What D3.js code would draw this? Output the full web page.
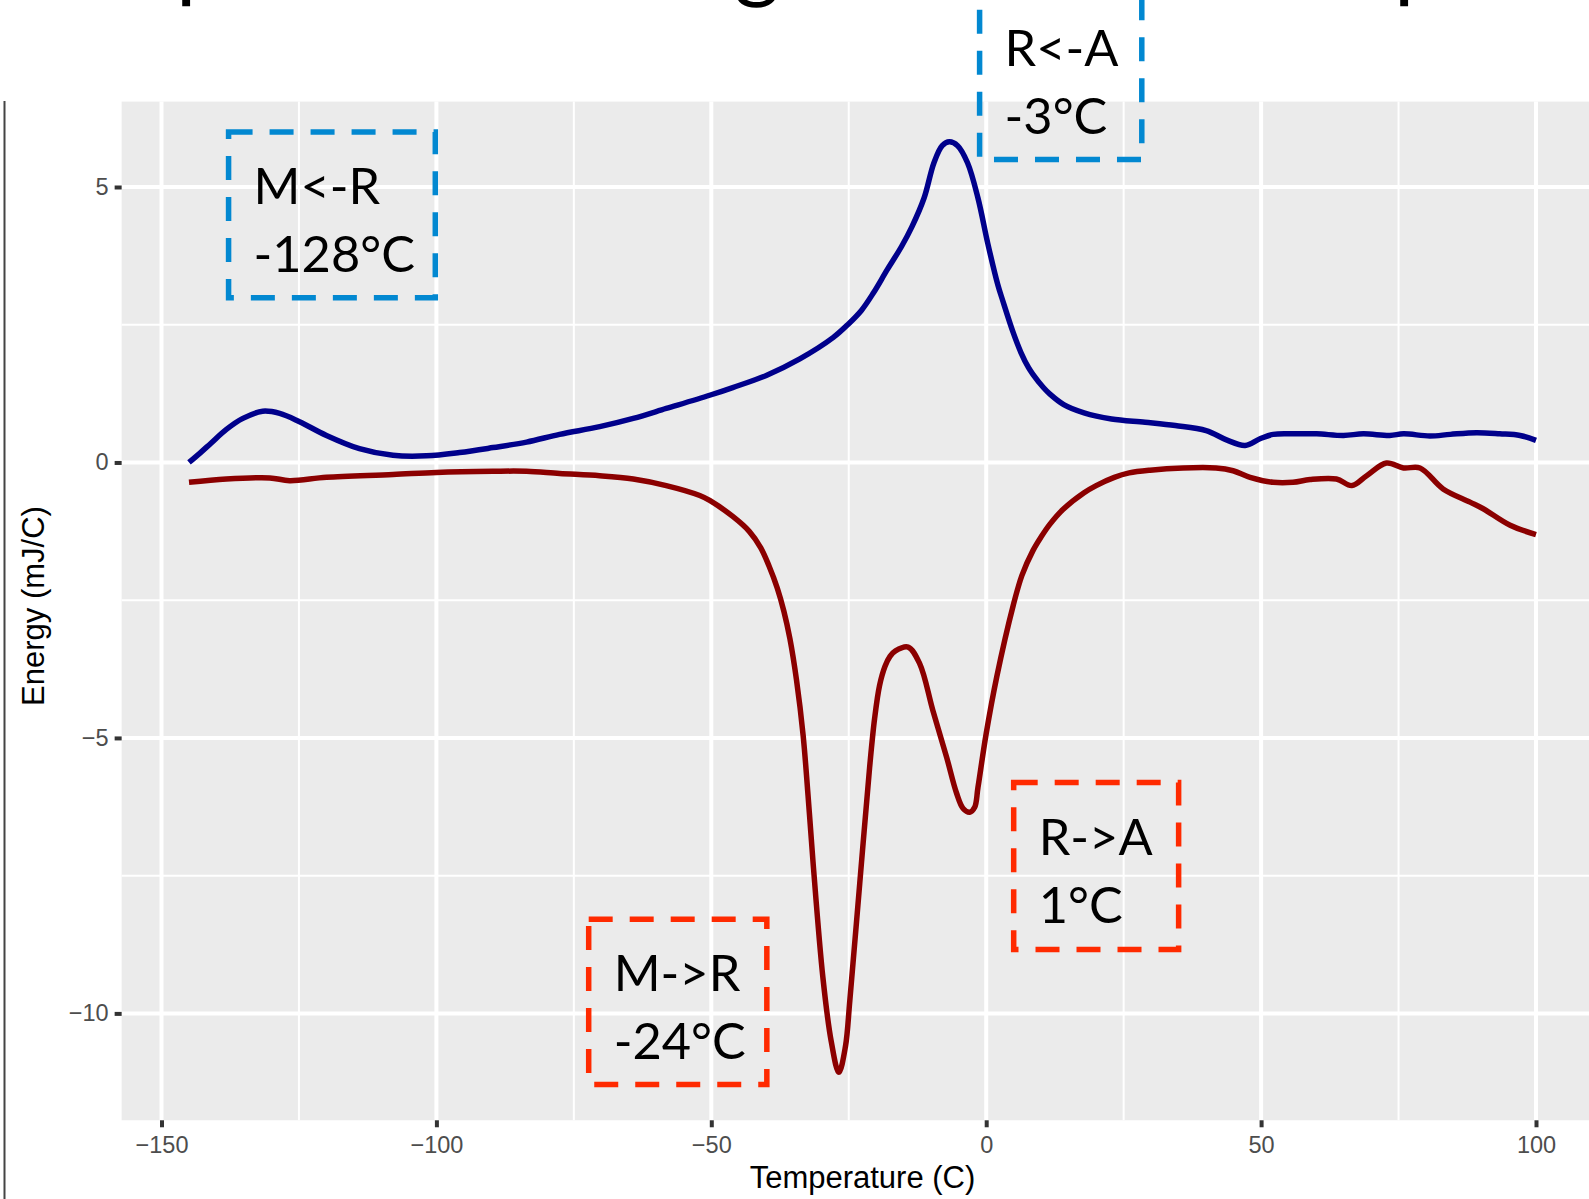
<!DOCTYPE html>
<html><head><meta charset="utf-8">
<script src="https://cdn.jsdelivr.net/npm/d3@7"></script>
<style>html,body{margin:0;padding:0;background:#fff;overflow:hidden}</style>
</head><body><svg id="c" width="1589" height="1199"></svg>
<script>
// ---- data ----
const coolingTemp = [-145,-143,-141,-138.2,-135.2,-131.6,-128.5,-124.9,-120,-114,-107.9,-101.8,-95.8,-89.7,-83.6,-77.6,-70.3,-64.2,-58.2,-50.3,-46.1,-40,-33.9,-27.8,-25.2,-22.7,-20.5,-18,-15.4,-13.5,-11.3,-9.5,-8,-6.7,-5.2,-3.4,-1.5,0.3,2.1,3,4.9,6.3,7.7,8.5,10.4,11.6,14.1,17.8,22.8,28.9,34.4,40,43.7,47.1,49.8,52.2,56,60.1,65,68.6,73.4,75.9,80.7,84.4,89.2,93.4,97.1,100];
const coolingEnergy = [0.0,0.17,0.35,0.6,0.8,0.93,0.89,0.74,0.49,0.25,0.13,0.12,0.18,0.27,0.37,0.51,0.65,0.8,0.98,1.22,1.36,1.58,1.88,2.27,2.5,2.76,3.08,3.5,3.92,4.28,4.8,5.44,5.75,5.82,5.75,5.44,4.8,3.97,3.23,2.94,2.36,2.0,1.72,1.6,1.36,1.24,1.05,0.9,0.79,0.73,0.67,0.58,0.41,0.31,0.43,0.51,0.52,0.52,0.49,0.52,0.49,0.52,0.48,0.51,0.54,0.52,0.49,0.40];
const heatingTemp = [-145,-138.2,-130.3,-126.7,-120,-107.9,-100,-89.7,-83.6,-77.6,-70.3,-64.2,-58.2,-52.1,-50.3,-46.1,-43.1,-41,-39.5,-38,-36.8,-35.7,-34.5,-33.3,-32.4,-31.5,-29.7,-28.2,-26.8,-25.6,-24.8,-23,-21.2,-20.3,-19.4,-18.4,-17.5,-16.5,-14.2,-12.1,-9.7,-7.2,-5.4,-4.2,-3,-2.1,-1.5,0,1.9,4.9,6.5,8.5,10,11.6,14,17.8,20,23.3,26,29.8,35.8,41.8,44.9,48,52.2,55.8,58.9,63.7,66.5,69.2,72.8,75.9,78.9,83.1,88,90.4,95.3,100];
const heatingEnergy = [-0.36,-0.30,-0.28,-0.33,-0.27,-0.22,-0.18,-0.16,-0.16,-0.20,-0.24,-0.30,-0.42,-0.6,-0.69,-0.98,-1.25,-1.55,-1.88,-2.28,-2.7,-3.2,-3.95,-4.95,-6.05,-7.25,-9.35,-10.5,-11.07,-10.6,-9.76,-7.64,-5.53,-4.65,-4.05,-3.7,-3.52,-3.42,-3.35,-3.65,-4.5,-5.35,-6.0,-6.28,-6.35,-6.26,-5.9,-4.92,-3.9,-2.6,-2.05,-1.6,-1.35,-1.12,-0.85,-0.55,-0.42,-0.27,-0.19,-0.14,-0.10,-0.10,-0.15,-0.27,-0.36,-0.36,-0.31,-0.30,-0.42,-0.24,-0.01,-0.10,-0.10,-0.48,-0.72,-0.84,-1.14,-1.31];
const xTicks = [-150,-100,-50,0,50,100];
const xMinorTicks = [-125,-75,-25,25,75];
const yTicks = [-10,-5,0,5];
const yMinorTicks = [-7.5,-2.5,2.5];
const xTitle = "Temperature (C)";
const yTitle = "Energy (mJ/C)";
const noteLabels = [["M<-R","-128°C"],["R<-A","-3°C"],["R->A","1°C"],["M->R","-24°C"]];
const noteKinds = ["cool","cool","heat","heat"];
const titleWords = ["DSC","plot","showing","the","thermal","steps"];

// ---- layout ----
const svg = d3.select('#c');
const x = d3.scaleLinear().domain([-150,100]).range([161.5,1536]);
const y = d3.scaleLinear().domain([-10,5]).range([1013.4,187]);
const px0 = x(-157.25), px1 = x(112.25), py0 = y(6.55), py1 = y(-11.94);

// clipped title of the slide above the chart (only descenders show)
const tg = svg.append('g').attr('font-family','Lato, sans-serif').attr('font-size',88).attr('fill','#000');
const titleAt = [[0,'start'],[176,'start'],[780,'end'],[800,'start'],[950,'start'],[1278,'start']];
titleWords.forEach((w,i)=>{
  tg.append('text').attr('x',titleAt[i][0]).attr('y',-9).attr('text-anchor',titleAt[i][1]).text(w);
});

// slide border line
svg.append('line').attr('x1',4.5).attr('x2',4.5).attr('y1',101).attr('y2',1199)
  .attr('stroke','#444').attr('stroke-width',2);

// panel
svg.append('rect').attr('x',px0).attr('y',py0).attr('width',px1-px0).attr('height',py1-py0).attr('fill','#EBEBEB');
const grid = svg.append('g');
grid.selectAll('.vminor').data(xMinorTicks).join('line')
  .attr('x1',d=>x(d)).attr('x2',d=>x(d)).attr('y1',py0).attr('y2',py1).attr('stroke','#fff').attr('stroke-width',2);
grid.selectAll('.hminor').data(yMinorTicks).join('line')
  .attr('x1',px0).attr('x2',px1).attr('y1',d=>y(d)).attr('y2',d=>y(d)).attr('stroke','#fff').attr('stroke-width',2);
grid.selectAll('.vmajor').data(xTicks).join('line')
  .attr('x1',d=>x(d)).attr('x2',d=>x(d)).attr('y1',py0).attr('y2',py1).attr('stroke','#fff').attr('stroke-width',4);
grid.selectAll('.hmajor').data(yTicks).join('line')
  .attr('x1',px0).attr('x2',px1).attr('y1',d=>y(d)).attr('y2',d=>y(d)).attr('stroke','#fff').attr('stroke-width',4);

// axes
const fmt = d3.format('d');
const gx = svg.append('g').attr('transform',`translate(0,${py1})`)
  .call(d3.axisBottom(x).tickValues(xTicks).tickSize(7).tickPadding(9).tickFormat(fmt));
const gy = svg.append('g').attr('transform',`translate(${px0},0)`)
  .call(d3.axisLeft(y).tickValues(yTicks).tickSize(7).tickPadding(6).tickFormat(fmt));
[gx,gy].forEach(g=>{
  g.select('.domain').remove();
  g.selectAll('.tick line').attr('stroke','#333').attr('stroke-width',4);
  g.selectAll('.tick text').attr('fill','#4D4D4D').attr('font-family','"Liberation Sans", Arial, sans-serif').attr('font-size',23.5);
});

svg.append('text').attr('x',(px0+px1)/2).attr('y',1188).attr('text-anchor','middle')
  .attr('font-family','"Liberation Sans", Arial, sans-serif').attr('font-size',31).attr('fill','#000').text(xTitle);
svg.append('text').attr('transform','translate(44,606) rotate(-90)').attr('text-anchor','middle')
  .attr('font-family','"Liberation Sans", Arial, sans-serif').attr('font-size',31).attr('fill','#000').text(yTitle);

// curves
const line = d3.line().x(d=>x(d[0])).y(d=>y(d[1])).curve(d3.curveCatmullRom.alpha(0.5));
svg.append('path').datum(coolingTemp.map((t,i)=>[t,coolingEnergy[i]]))
  .attr('d',line).attr('fill','none').attr('stroke','#00008B').attr('stroke-width',5.5);
svg.append('path').datum(heatingTemp.map((t,i)=>[t,heatingEnergy[i]]))
  .attr('d',line).attr('fill','none').attr('stroke','#8B0000').attr('stroke-width',5.5);

// annotation boxes (placed in data units)
const boxT0 = [-137.8,-1.2,5.0,-72.3];
const boxT1 = [-100.2,28.3,35.0,-39.9];
const boxE0 = [6.0,8.5,-5.81,-8.29];
const boxE1 = [2.99,5.5,-8.84,-11.29];
const colors = {cool:'#0288D1', heat:'#FF2A00'};
noteLabels.forEach((lab,i)=>{
  const bx0 = x(boxT0[i]), bx1 = x(boxT1[i]);
  const by1 = y(boxE1[i]);
  const by0 = i===1 ? by1-165 : y(boxE0[i]);
  svg.append('rect').attr('x',bx0).attr('y',by0).attr('width',bx1-bx0).attr('height',by1-by0)
    .attr('fill','none').attr('stroke',colors[noteKinds[i]]).attr('stroke-width',5.5)
    .attr('stroke-dasharray','24 17');
  const t = svg.append('text').attr('font-family','Lato, "Open Sans", sans-serif').attr('font-size',50.5).attr('fill','#000');
  t.append('tspan').attr('x',bx0+25).attr('y',by0+72).text(lab[0]);
  t.append('tspan').attr('x',bx0+25).attr('y',by0+140).text(lab[1]);
});
</script></body></html>
